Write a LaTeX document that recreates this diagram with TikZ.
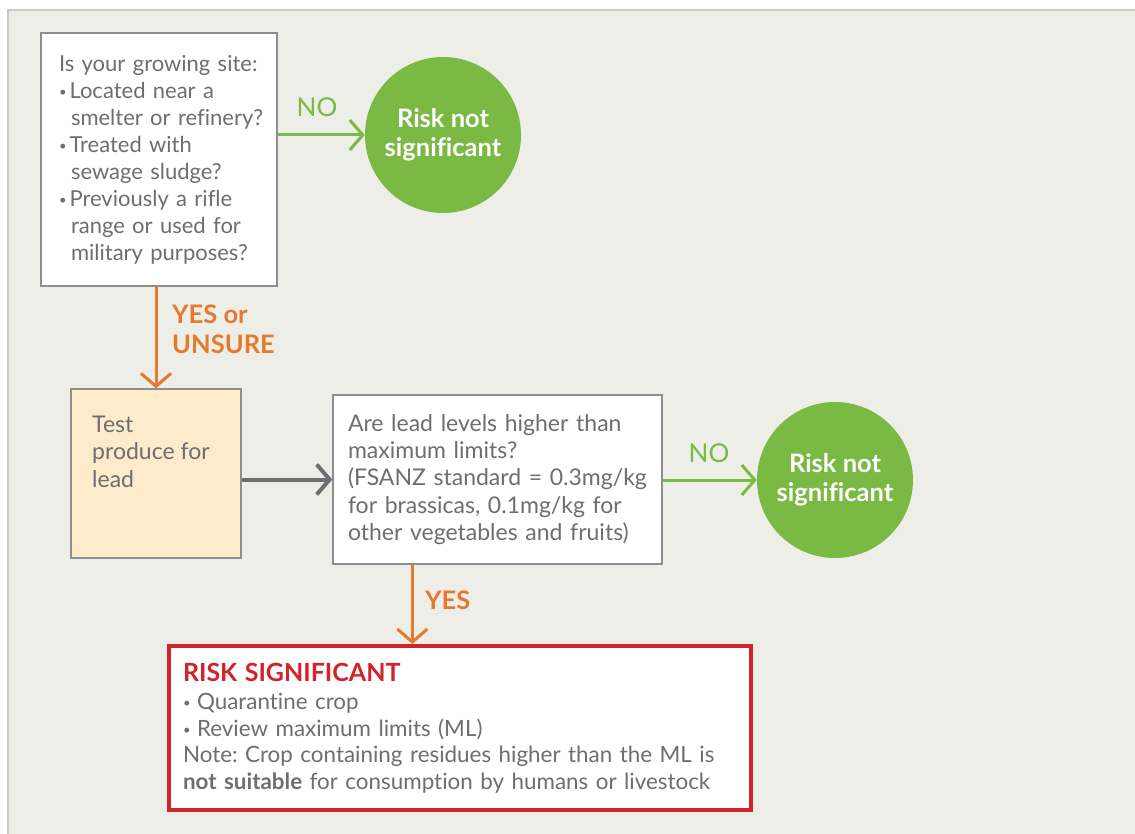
\documentclass[tikz,border=0pt]{standalone}
\usepackage{fontspec}
\setmainfont{Lato}[Ligatures={NoCommon}]
\usetikzlibrary{arrows.meta}
\definecolor{bgc}{HTML}{EEEEE9}
\definecolor{framec}{HTML}{CACACA}
\definecolor{boxline}{HTML}{8E8E8E}
\definecolor{txt}{HTML}{6D6E71}
\definecolor{grn}{HTML}{7AB943}
\definecolor{org}{HTML}{E57A2E}
\definecolor{rd}{HTML}{D2232A}
\definecolor{beige}{HTML}{FEEBCB}
\definecolor{arrg}{HTML}{6D6E71}
\newcommand\oneline[1]{\mbox{#1}}
\newcommand\smallbul{\raisebox{1.8pt}{\fontsize{13}{13}\selectfont•}}
\newcommand\bulA{\makebox[10.5pt][l]{\smallbul}}
\newcommand\bulB{\makebox[14pt][l]{\smallbul}}
\frenchspacing
\tikzset{
  qbox/.style={draw=boxline, line width=1.3pt, fill=white, rectangle, align=left, text=txt,
     font=\fontsize{22}{27}\selectfont, inner ysep=0pt},
  circ/.style={circle, fill=grn, draw=none, minimum size=156pt, inner sep=0pt, text=white,
     align=center, font=\bfseries\fontsize{25.5}{29}\selectfont},
  lblg/.style={text=grn, font=\fontsize{26}{26}\selectfont, inner sep=0pt},
  lblo/.style={text=org, font=\bfseries\fontsize{25.5}{30}\selectfont, inner sep=0pt, align=left},
  garrow/.style={draw=grn, line width=3pt, -{Straight Barb[length=13pt,width=30pt]}},
  oarrow/.style={draw=org, line width=3pt, -{Straight Barb[length=13pt,width=30pt]}},
  darrow/.style={draw=arrg, line width=4pt, -{Straight Barb[length=13pt,width=30pt]}},
}
\begin{document}
\begin{tikzpicture}[x=1pt,y=1pt]
\useasboundingbox (0,0) rectangle (1135,-834);
\fill[white] (0,0) rectangle (1135,-834);
\fill[bgc] (8,-10) rectangle (1135,-834);
\draw[framec, line width=1.5pt] (8,-834) -- (8,-10) -- (1135,-10);

% Box 1
\node[qbox, minimum width=236pt, minimum height=253pt, text width=200pt, inner xsep=18pt] (q1) at (159,-159.5)
 {\oneline{Is your growing site:}\\
  \oneline{\bulA Located near a}\\
  \oneline{\hspace*{12pt}smelter or refinery?}\\
  \oneline{\bulA Treated with}\\
  \oneline{\hspace*{12pt}sewage sludge?}\\
  \oneline{\bulA Previously a rifle}\\
  \oneline{\hspace*{12pt}range or used for}\\
  \oneline{\hspace*{12pt}military purposes?}};

\node[circ] (c1) at (443,-135) {Risk not\\significant};
\node[lblg] (no1) at (317,-107) {NO};
\draw[garrow] (q1.east |- c1.west) -- (c1.west);

% Box 2
\node[qbox, fill=beige, minimum width=170pt, minimum height=169pt] (b2) at (156,-473.5) {};
\node[anchor=north west, inner sep=0pt, text=txt, align=left, font=\fontsize{23}{27.5}\selectfont] (b2t) at (92,-415.5)
 {Test\\produce for\\lead};
\node[lblo, anchor=north west] (yu) at (172,-305) {YES or\\UNSURE};
\draw[oarrow] (b2.north |- q1.south) -- (b2.north);

% Box 3
\node[qbox, font=\fontsize{23}{27.3}\selectfont, minimum width=329pt, minimum height=169pt, text width=299pt, inner xsep=15pt] (q3) at (497.5,-479.5)
 {\oneline{Are lead levels higher than}\\
  \oneline{maximum limits?}\\
  \oneline{(FSANZ standard = 0.3mg/kg}\\
  \oneline{for brassicas, 0.1mg/kg for}\\
  \oneline{other vegetables and fruits)}};
\draw[darrow] (b2.east |- q3.west) -- (q3.west);

\node[circ] (c2) at (835,-480) {Risk not\\significant};
\node[lblg] (no2) at (709,-453) {NO};
\draw[garrow] (q3.east |- c2.west) -- (c2.west);

% Red box
\node[draw=rd, line width=4pt, fill=white, rectangle, minimum width=582pt, minimum height=164pt,
      text width=554pt, inner xsep=14pt, inner ysep=0pt, align=left, text=txt,
      font=\fontsize{22.4}{26.5}\selectfont] (rs) at (460,-728)
 {{\color{rd}\bfseries\fontsize{25}{26.5}\selectfont RISK SIGNIFICANT}\\[2pt]
  \oneline{\bulB Quarantine crop}\\
  \oneline{\bulB Review maximum limits (ML)}\\
  \oneline{Note: Crop containing residues higher than the ML is}\\
  \oneline{\textbf{not suitable} for consumption by humans or livestock}};
\coordinate (ys) at ([xshift=80pt]q3.south west);
\node[lblo, anchor=west] (yes) at (425,-600) {YES};
\draw[oarrow] (ys) -- (ys |- rs.north);
\end{tikzpicture}
\end{document}
